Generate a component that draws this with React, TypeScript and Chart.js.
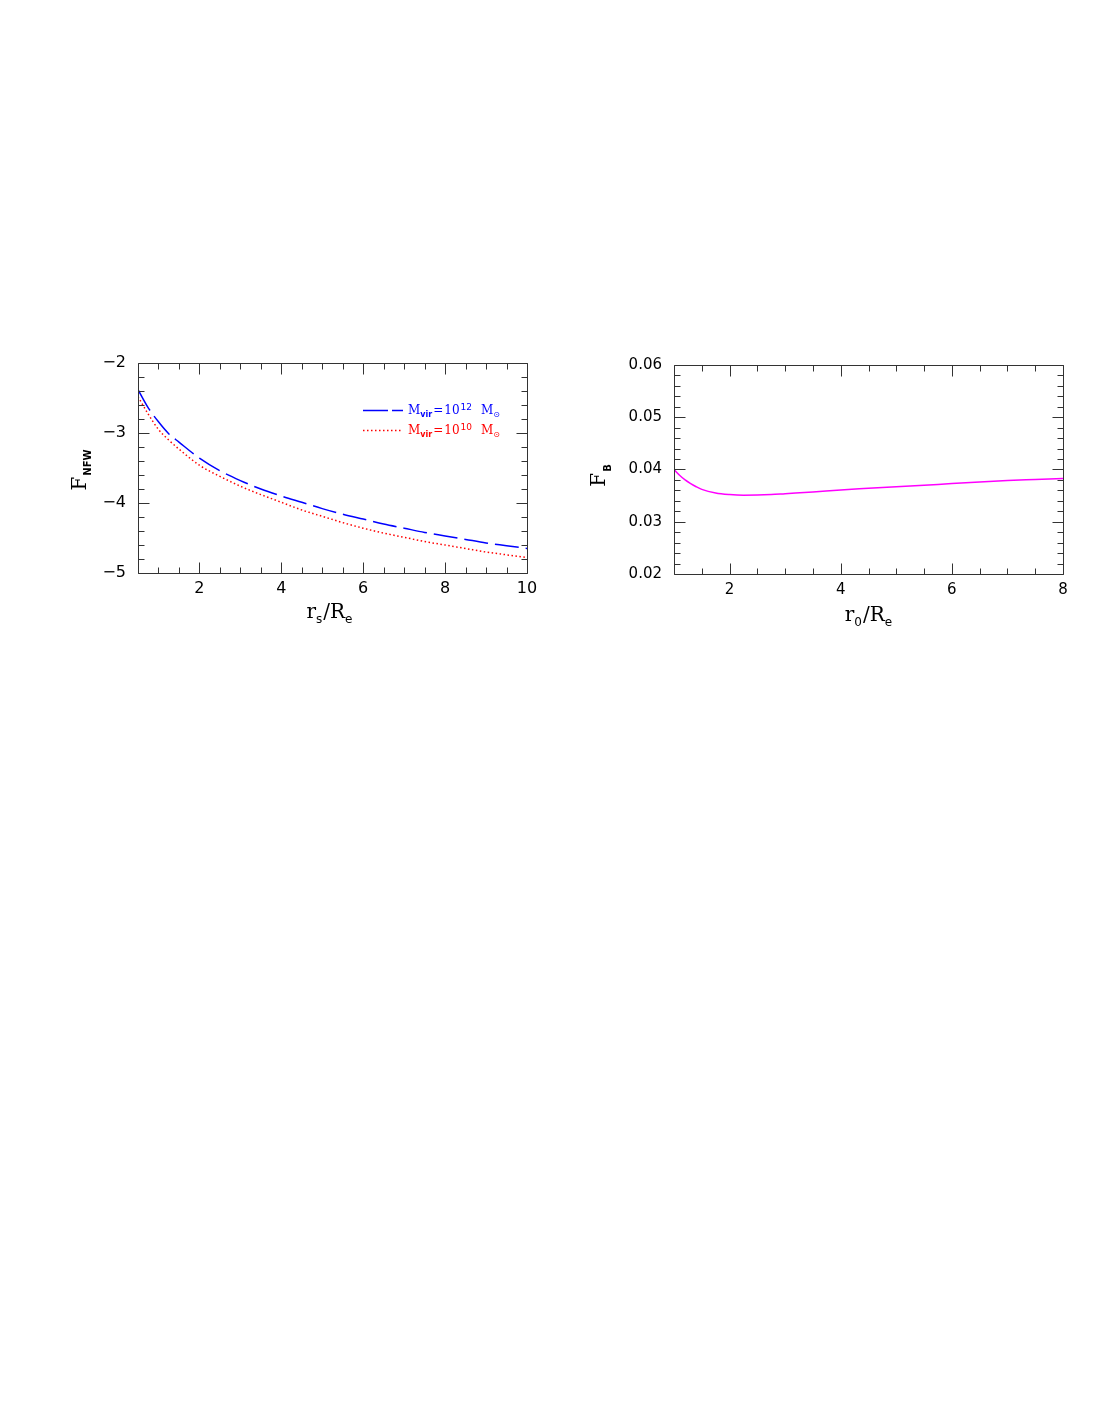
import React, { useEffect, useRef } from "react";
import { Chart, registerables } from "chart.js";
Chart.register(...registerables);

// ---------- Left panel data: F_NFW vs r_s/R_e ----------
const rsRe = [0.5, 0.75, 1, 1.25, 1.5, 2, 2.5, 3, 3.5, 4, 4.5, 5, 5.5, 6, 6.5, 7, 7.5, 8, 8.5, 9, 9.5, 10];
const fNfwM12 = [-2.38, -2.64, -2.84, -3.01, -3.13, -3.36, -3.54, -3.68, -3.80, -3.90, -3.99, -4.08, -4.16, -4.23, -4.30, -4.36, -4.42, -4.47, -4.52, -4.57, -4.61, -4.65];
const fNfwM10 = [-2.48, -2.73, -2.95, -3.10, -3.23, -3.46, -3.62, -3.76, -3.88, -3.99, -4.10, -4.19, -4.28, -4.36, -4.43, -4.49, -4.55, -4.60, -4.65, -4.70, -4.74, -4.78];
const leftXTicks = [2, 4, 6, 8, 10];
const leftYTicks = [-5, -4, -3, -2];

// ---------- Right panel data: F_B vs r_0/R_e ----------
const r0Re = [1, 1.1, 1.2, 1.3, 1.4, 1.5, 1.75, 2, 2.25, 2.5, 2.75, 3, 3.5, 4, 4.5, 5, 5.5, 6, 6.5, 7, 7.5, 8];
const fB = [0.0400, 0.0389, 0.0380, 0.0373, 0.0367, 0.0362, 0.0355, 0.03520, 0.03508, 0.03510, 0.03520, 0.03537, 0.0357, 0.0361, 0.0364, 0.0367, 0.0370, 0.0373, 0.0376, 0.0379, 0.0381, 0.0383];
const rightXTicks = [2, 4, 6, 8];
const rightYTicks = [0.02, 0.03, 0.04, 0.05, 0.06];

const SERIF = '"DejaVu Serif", "Liberation Serif", serif';
const SANS = '"DejaVu Sans", "Liberation Sans", sans-serif';
const FRAME = "#333";

type Part = { t: string; font: string; dy?: number; dx?: number };

function richWidth(ctx: CanvasRenderingContext2D, parts: Part[]) {
  let w = 0;
  for (const p of parts) {
    ctx.font = p.font;
    w += ctx.measureText(p.t).width + (p.dx || 0);
  }
  return w;
}

function drawRich(
  ctx: CanvasRenderingContext2D,
  parts: Part[],
  x: number,
  y: number,
  align: "left" | "center",
  color: string,
  rotate = false
) {
  ctx.save();
  ctx.translate(x, y);
  if (rotate) ctx.rotate(-Math.PI / 2);
  ctx.fillStyle = color;
  ctx.textBaseline = "alphabetic";
  ctx.textAlign = "left";
  const w = richWidth(ctx, parts);
  let cx = align === "center" ? -w / 2 : 0;
  for (const p of parts) {
    ctx.font = p.font;
    cx += p.dx || 0;
    ctx.fillText(p.t, cx, p.dy || 0);
    cx += ctx.measureText(p.t).width;
  }
  ctx.restore();
}

function drawFrame(chart: any, xStep: number, xMajor: number, yStep: number, yMajor: number) {
  const ctx: CanvasRenderingContext2D = chart.ctx;
  const { left, right, top, bottom } = chart.chartArea;
  const xs = chart.scales.x;
  const ys = chart.scales.y;
  const L = Math.round(left) + 0.5;
  const R = Math.round(right) + 0.5;
  const T = Math.round(top) + 0.5;
  const B = Math.round(bottom) + 0.5;
  ctx.save();
  ctx.strokeStyle = FRAME;
  ctx.lineWidth = 1;
  ctx.setLineDash([]);
  ctx.beginPath();
  ctx.rect(L, T, R - L, B - T);
  const isMajor = (v: number, m: number) => Math.abs(v / m - Math.round(v / m)) < 1e-6;
  const major = 11;
  const minor = 6;
  for (let i = Math.ceil(xs.min / xStep - 1e-9); i * xStep <= xs.max + 1e-9; i++) {
    const v = i * xStep;
    const px = Math.round(xs.getPixelForValue(v)) + 0.5;
    const len = isMajor(v, xMajor) ? major : minor;
    ctx.moveTo(px, B);
    ctx.lineTo(px, B - len);
    ctx.moveTo(px, T);
    ctx.lineTo(px, T + len);
  }
  for (let i = Math.ceil(ys.min / yStep - 1e-9); i * yStep <= ys.max + 1e-9; i++) {
    const v = i * yStep;
    const py = Math.round(ys.getPixelForValue(v)) + 0.5;
    const len = isMajor(v, yMajor) ? major : minor;
    ctx.moveTo(L, py);
    ctx.lineTo(L + len, py);
    ctx.moveTo(R, py);
    ctx.lineTo(R - len, py);
  }
  ctx.stroke();
  ctx.restore();
}

function leftConfig(): any {
  const decor = {
    id: "decorLeft",
    afterDraw(chart: any) {
      const ctx: CanvasRenderingContext2D = chart.ctx;
      const { left, right, top, bottom } = chart.chartArea;
      drawFrame(chart, 0.5, 2, 0.2, 1);
      // x title
      drawRich(
        ctx,
        [
          { t: "r", font: `20px ${SERIF}` },
          { t: "s", font: `12px ${SANS}`, dy: 5 },
          { t: "/", font: `20px ${SERIF}`, dx: 1 },
          { t: "R", font: `20px ${SERIF}` },
          { t: "e", font: `12px ${SANS}`, dy: 5 },
        ],
        (left + right) / 2 - 3,
        bottom + 45,
        "center",
        "#000"
      );
      // y title
      drawRich(
        ctx,
        [
          { t: "F", font: `20px ${SERIF}` },
          { t: "NFW", font: `bold 10px ${SANS}`, dy: 5, dx: 1 },
        ],
        left - 52,
        (top + bottom) / 2 + 2,
        "center",
        "#000",
        true
      );
      // legend
      const lx0 = left + 225;
      const lx1 = left + 265;
      ctx.save();
      ctx.lineWidth = 1.5;
      ctx.strokeStyle = "#0000ff";
      ctx.setLineDash([25, 4]);
      ctx.beginPath();
      ctx.moveTo(lx0, top + 47.5);
      ctx.lineTo(lx1, top + 47.5);
      ctx.stroke();
      ctx.strokeStyle = "#ff0000";
      ctx.setLineDash([1.5, 2.5]);
      ctx.beginPath();
      ctx.moveTo(lx0, top + 67.5);
      ctx.lineTo(lx1, top + 67.5);
      ctx.stroke();
      ctx.restore();
      const legendParts = (exp: string): Part[] => [
        { t: "M", font: `12px ${SERIF}` },
        { t: "vir", font: `bold 8px ${SANS}`, dy: 3 },
        { t: "=", font: `12px ${SERIF}`, dx: 1 },
        { t: "10", font: `12px ${SERIF}`, dx: 1 },
        { t: exp, font: `9px ${SANS}`, dy: -4, dx: 1 },
        { t: "M", font: `12px ${SERIF}`, dx: 9 },
        { t: "⊙", font: `8px ${SANS}`, dy: 3 },
      ];
      drawRich(ctx, legendParts("12"), left + 270, top + 51, "left", "#0000ff");
      drawRich(ctx, legendParts("10"), left + 270, top + 71, "left", "#ff0000");
    },
  };
  return {
    type: "scatter",
    data: {
      datasets: [
        {
          label: "Mvir=10^12 Msun",
          data: rsRe.map((x, i) => ({ x, y: fNfwM12[i] })),
          showLine: true,
          borderColor: "#0000ff",
          borderWidth: 1.5,
          borderDash: [24, 7],
          pointRadius: 0,
          cubicInterpolationMode: "monotone",
        },
        {
          label: "Mvir=10^10 Msun",
          data: rsRe.map((x, i) => ({ x, y: fNfwM10[i] })),
          showLine: true,
          borderColor: "#ff0000",
          borderWidth: 1.5,
          borderDash: [1.5, 2.5],
          pointRadius: 0,
          cubicInterpolationMode: "monotone",
        },
      ],
    },
    options: {
      animation: false,
      responsive: false,
      events: [],
      layout: { padding: { top: 33, right: 33, left: 0, bottom: 0 } },
      plugins: { legend: { display: false }, tooltip: { enabled: false } },
      scales: {
        x: {
          type: "linear",
          min: 0.5,
          max: 10,
          grid: { display: false, drawTicks: false },
          border: { display: false },
          afterBuildTicks: (axis: any) => {
            axis.ticks = leftXTicks.map((v) => ({ value: v }));
          },
          afterFit: (axis: any) => {
            axis.height = 67;
          },
          ticks: {
            autoSkip: false,
            maxRotation: 0,
            padding: 6,
            color: "#000",
            font: { family: SANS, size: 16 },
            callback: (v: any) => String(v),
          },
        },
        y: {
          type: "linear",
          min: -5,
          max: -2,
          grid: { display: false, drawTicks: false },
          border: { display: false },
          afterBuildTicks: (axis: any) => {
            axis.ticks = leftYTicks.map((v) => ({ value: v }));
          },
          afterFit: (axis: any) => {
            axis.width = 98;
          },
          ticks: {
            autoSkip: false,
            padding: 12,
            color: "#000",
            font: { family: SANS, size: 16 },
            callback: (v: any) => (v < 0 ? "\u2212" + Math.abs(v) : String(v)),
          },
        },
      },
    },
    plugins: [decor],
  };
}

function rightConfig(): any {
  const decor = {
    id: "decorRight",
    afterDraw(chart: any) {
      const ctx: CanvasRenderingContext2D = chart.ctx;
      const { left, right, top, bottom } = chart.chartArea;
      drawFrame(chart, 0.5, 2, 0.002, 0.01);
      drawRich(
        ctx,
        [
          { t: "r", font: `20px ${SERIF}` },
          { t: "0", font: `12px ${SANS}`, dy: 5 },
          { t: "/", font: `20px ${SERIF}`, dx: 1 },
          { t: "R", font: `20px ${SERIF}` },
          { t: "e", font: `12px ${SANS}`, dy: 5 },
        ],
        (left + right) / 2,
        bottom + 47,
        "center",
        "#000"
      );
      drawRich(
        ctx,
        [
          { t: "F", font: `20px ${SERIF}` },
          { t: "B", font: `bold 10px ${SANS}`, dy: 6, dx: 1 },
        ],
        left - 69,
        (top + bottom) / 2 + 6,
        "center",
        "#000",
        true
      );
    },
  };
  return {
    type: "scatter",
    data: {
      datasets: [
        {
          label: "F_B",
          data: r0Re.map((x, i) => ({ x, y: fB[i] })),
          showLine: true,
          borderColor: "#ff00ff",
          borderWidth: 1.5,
          pointRadius: 0,
          cubicInterpolationMode: "monotone",
        },
      ],
    },
    options: {
      animation: false,
      responsive: false,
      events: [],
      layout: { padding: { top: 35, right: 37, left: 0, bottom: 0 } },
      plugins: { legend: { display: false }, tooltip: { enabled: false } },
      scales: {
        x: {
          type: "linear",
          min: 1,
          max: 8,
          grid: { display: false, drawTicks: false },
          border: { display: false },
          afterBuildTicks: (axis: any) => {
            axis.ticks = rightXTicks.map((v) => ({ value: v }));
          },
          afterFit: (axis: any) => {
            axis.height = 66;
          },
          ticks: {
            autoSkip: false,
            maxRotation: 0,
            padding: 7,
            color: "#000",
            font: { family: SANS, size: 15 },
            callback: (v: any) => String(v),
          },
        },
        y: {
          type: "linear",
          min: 0.02,
          max: 0.06,
          grid: { display: false, drawTicks: false },
          border: { display: false },
          afterBuildTicks: (axis: any) => {
            axis.ticks = rightYTicks.map((v) => ({ value: v }));
          },
          afterFit: (axis: any) => {
            axis.width = 94;
          },
          ticks: {
            autoSkip: false,
            padding: 12,
            color: "#000",
            font: { family: SANS, size: 15 },
            callback: (v: any) => Number(v).toFixed(2),
          },
        },
      },
    },
    plugins: [decor],
  };
}

function Panel(props: { left: number; top: number; width: number; height: number; make: () => any }) {
  const ref = useRef<HTMLCanvasElement>(null);
  useEffect(() => {
    const chart = new Chart(ref.current as HTMLCanvasElement, props.make());
    return () => chart.destroy();
  }, []);
  return (
    <canvas
      ref={ref}
      width={props.width}
      height={props.height}
      style={{ position: "absolute", left: props.left, top: props.top, width: props.width, height: props.height }}
    />
  );
}

// Body has an 8px margin; panel positions below are relative to the root div.
export default function App() {
  return (
    <div style={{ position: "relative", width: 1101, height: 1401 }}>
      <Panel left={32} top={322} width={520} height={310} make={leftConfig} />
      <Panel left={572} top={322} width={520} height={310} make={rightConfig} />
    </div>
  );
}
